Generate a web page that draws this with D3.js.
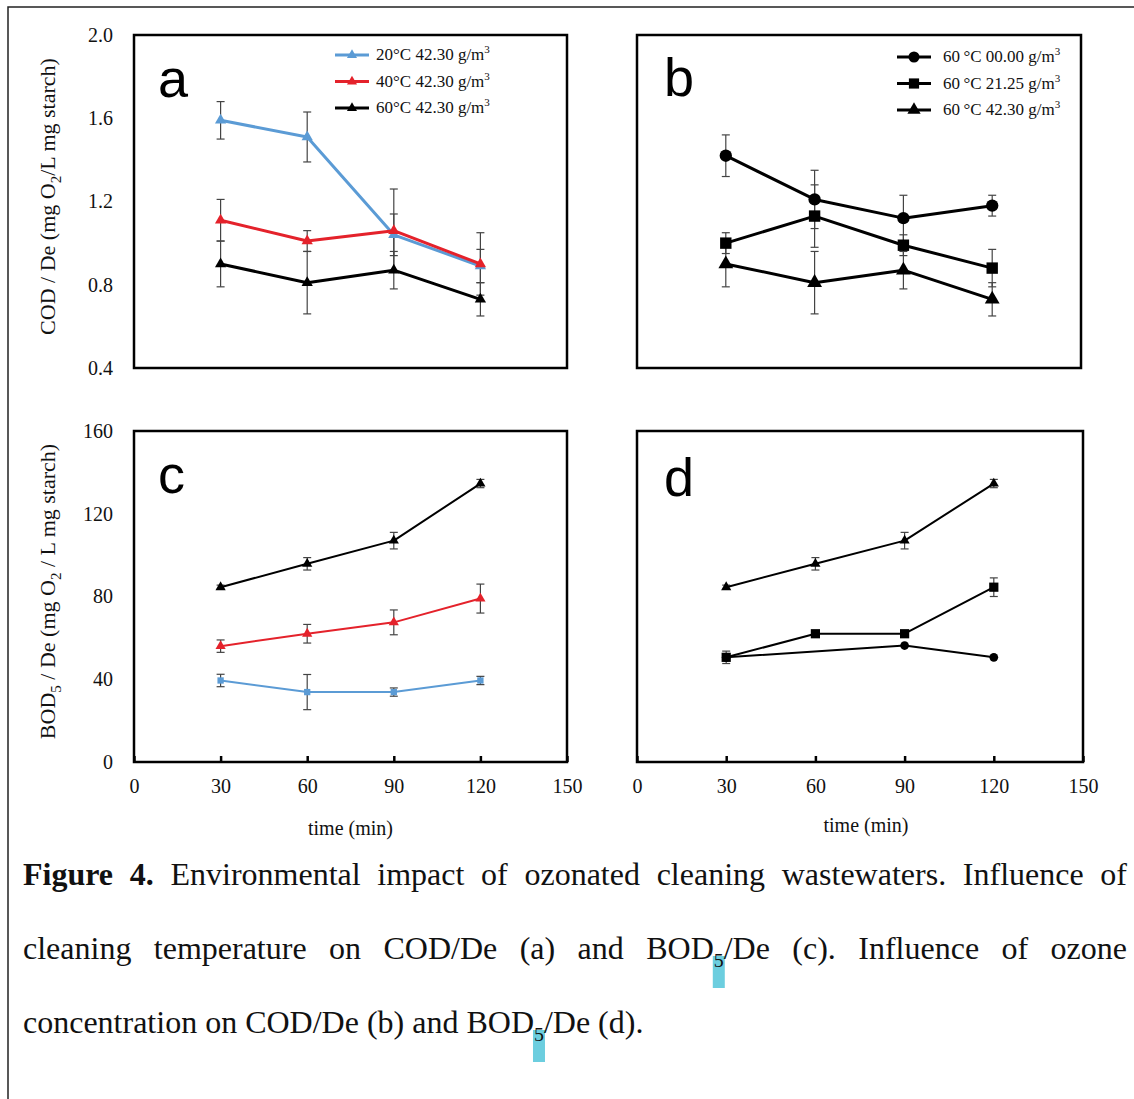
<!DOCTYPE html>
<html>
<head>
<meta charset="utf-8">
<script src="https://cdn.jsdelivr.net/npm/d3@7"></script>
<style>
  body { margin: 0; background: #fff; }
  text { font-family: "Liberation Serif", "Times New Roman", serif; }
  text.letter { font-family: "Liberation Sans", Arial, sans-serif; }
</style>
</head>
<body>
<script>
// ---- data ----
const times = [30, 60, 90, 120];

// COD / De, influence of temperature (panel a)
const cod20 = [1.59, 1.51, 1.04, 0.89];
const cod20Err = [0.09, 0.12, 0.10, 0.08];
const cod40 = [1.11, 1.01, 1.06, 0.90];
const cod40Err = [0.10, 0.05, 0.20, 0.15];
const cod60 = [0.90, 0.81, 0.87, 0.73];
const cod60Err = [0.11, 0.15, 0.09, 0.08];

// COD / De, influence of ozone concentration (panel b)
const codOz00 = [1.42, 1.21, 1.12, 1.18];
const codOz00Err = [0.10, 0.14, 0.11, 0.05];
const codOz21 = [1.00, 1.13, 0.99, 0.88];
const codOz21Err = [0.05, 0.15, 0.05, 0.09];

// BOD5 / De, influence of temperature (panel c)
const bod20 = [39.4, 33.8, 33.8, 39.4];
const bod20Err = [3, 8.5, 2, 2];
const bod40 = [56, 62, 67.5, 79];
const bod40Err = [3, 4.5, 6, 7];
const bod60 = [84.5, 95.8, 107, 134.6];
const bod60Err = [1, 3, 4, 2];

// BOD5 / De, influence of ozone concentration (panel d)
const bodOz00 = [50.6, null, 56.3, 50.6];
const bodOz00Err = [0, 0, 0, 0];
const bodOz21 = [50.6, 62, 62, 84.5];
const bodOz21Err = [3, 1, 1, 4.5];

const codTicks = [0.4, 0.8, 1.2, 1.6, 2.0];
const bodTicks = [0, 40, 80, 120, 160];
const timeTicks = [0, 30, 60, 90, 120, 150];

const tempLabels = ["20°C 42.30 g/m", "40°C 42.30 g/m", "60°C 42.30 g/m"];
const ozoneLabels = ["60\u2009°C 00.00 g/m", "60\u2009°C 21.25 g/m", "60\u2009°C 42.30 g/m"];

const captionLines = [
    [[{t: "Figure", b: true}], [{t: "4.", b: true}], "Environmental", "impact", "of", "ozonated",
     "cleaning", "wastewaters.", "Influence", "of"],
    ["cleaning", "temperature", "on", "COD/De", "(a)", "and",
     [{t: "BOD"}, {t: "5", sub: true}, {t: "/De"}], "(c).", "Influence", "of", "ozone"],
    ["concentration", "on", "COD/De", "(b)", "and",
     [{t: "BOD"}, {t: "5", sub: true}, {t: "/De"}], "(d)."]
];

const blue = "#5b9bd5", red = "#e4222b", black = "#000";

const svg = d3.select("body").append("svg")
    .attr("width", 1134)
    .attr("height", 1099);

// outer frame of the page crop
svg.append("path")
    .attr("d", "M8,1099V7H1134")
    .attr("fill", "none")
    .attr("stroke", "#222")
    .attr("stroke-width", 1.5);

const panels = [
    {
        letter: "a", left: 134, right: 567, top: 35, bottom: 368,
        yDomain: [0.4, 2.0], yTicks: codTicks, yFmt: d3.format(".1f"),
        yLabel: [{t: "COD / De (mg O"}, {t: "2", sub: true}, {t: "/L mg starch)"}],
        showX: false, lw: 3, letterDx: 24, letterDy: 62,
        series: [
            {v: cod20, e: cod20Err, color: blue, sym: d3.symbolTriangle, size: 55},
            {v: cod40, e: cod40Err, color: red, sym: d3.symbolTriangle, size: 55},
            {v: cod60, e: cod60Err, color: black, sym: d3.symbolTriangle, size: 55}
        ],
        legend: {x: 335, y: 55, dx: 41, labels: tempLabels}
    },
    {
        letter: "b", left: 637, right: 1081, top: 35, bottom: 368,
        yDomain: [0.4, 2.0], yTicks: null, showX: false, lw: 3, letterDx: 27, letterDy: 61,
        series: [
            {v: codOz00, e: codOz00Err, color: black, sym: d3.symbolCircle, size: 120},
            {v: codOz21, e: codOz21Err, color: black, sym: d3.symbolSquare, size: 130},
            {v: cod60, e: cod60Err, color: black, sym: d3.symbolTriangle, size: 95}
        ],
        legend: {x: 897, y: 57, dx: 46, labels: ozoneLabels}
    },
    {
        letter: "c", left: 134, right: 567, top: 431, bottom: 762,
        yDomain: [0, 160], yTicks: bodTicks, yFmt: d3.format("d"),
        yLabel: [{t: "BOD"}, {t: "5", sub: true}, {t: " / De (mg O"}, {t: "2", sub: true}, {t: " / L mg starch)"}],
        showX: true, lw: 2, letterDx: 24, letterDy: 62, xTitleDx: 0, xTitleDy: 73,
        series: [
            {v: bod20, e: bod20Err, color: blue, sym: d3.symbolSquare, size: 40},
            {v: bod40, e: bod40Err, color: red, sym: d3.symbolTriangle, size: 45},
            {v: bod60, e: bod60Err, color: black, sym: d3.symbolTriangle, size: 45}
        ]
    },
    {
        letter: "d", left: 637, right: 1083, top: 431, bottom: 762,
        yDomain: [0, 160], yTicks: null, showX: true, lw: 2, letterDx: 27, letterDy: 65, xTitleDx: 6, xTitleDy: 70,
        series: [
            {v: bodOz00, e: bodOz00Err, color: black, sym: d3.symbolCircle, size: 60},
            {v: bodOz21, e: bodOz21Err, color: black, sym: d3.symbolSquare, size: 85},
            {v: bod60, e: bod60Err, color: black, sym: d3.symbolTriangle, size: 45}
        ]
    }
];

function addRuns(textSel, runs, baseSize, subSize) {
    runs.forEach((r, k) => {
        const ts = textSel.append("tspan").text(r.t);
        if (r.b) ts.attr("font-weight", "bold");
        if (r.sub) {
            ts.attr("font-size", subSize).attr("dy", baseSize * 0.25);
        } else if (k > 0 && runs[k - 1].sub) {
            ts.attr("dy", -baseSize * 0.25);
        }
    });
}

panels.forEach(p => {
    const g = svg.append("g");
    const x = d3.scaleLinear().domain([0, 150]).range([p.left, p.right]);
    const y = d3.scaleLinear().domain(p.yDomain).range([p.bottom, p.top]);

    // y axis labels
    if (p.yTicks) {
        const ya = g.append("g")
            .attr("transform", `translate(${p.left},0)`)
            .call(d3.axisLeft(y).tickValues(p.yTicks).tickFormat(p.yFmt).tickSize(0).tickPadding(21));
        ya.select(".domain").remove();
        ya.selectAll("text")
            .attr("font-family", "Liberation Serif")
            .attr("font-size", 20)
            .attr("fill", "#111");

        const yl = g.append("text")
            .attr("transform", `translate(55,${(p.top + p.bottom) / 2 - 5}) rotate(-90)`)
            .attr("text-anchor", "middle")
            .attr("font-size", 22)
            .attr("fill", "#111");
        addRuns(yl, p.yLabel, 22, 15);
    }

    if (p.showX) {
        const xa = g.append("g")
            .attr("transform", `translate(0,${p.bottom})`)
            .call(d3.axisBottom(x).tickValues(timeTicks).tickSizeInner(-6).tickSizeOuter(0).tickPadding(17));
        xa.select(".domain").remove();
        xa.selectAll("line").attr("stroke", "#000").attr("stroke-width", 2.5);
        xa.selectAll("text")
            .attr("font-family", "Liberation Serif")
            .attr("font-size", 20)
            .attr("fill", "#111");

        g.append("text")
            .attr("x", (p.left + p.right) / 2 + p.xTitleDx)
            .attr("y", p.bottom + p.xTitleDy)
            .attr("text-anchor", "middle")
            .attr("font-size", 20)
            .attr("fill", "#111")
            .text("time (min)");
    }

    // plot frame
    g.append("rect")
        .attr("x", p.left).attr("y", p.top)
        .attr("width", p.right - p.left).attr("height", p.bottom - p.top)
        .attr("fill", "none")
        .attr("stroke", "#000")
        .attr("stroke-width", 2.5);

    // panel letter
    g.append("text")
        .attr("class", "letter")
        .attr("x", p.left + p.letterDx)
        .attr("y", p.top + p.letterDy)
        .attr("font-size", 54)
        .attr("fill", "#000")
        .text(p.letter);

    // error bars
    p.series.forEach(s => {
        const pts = times.map((t, i) => ({t, v: s.v[i], e: s.e[i]})).filter(d => d.v !== null && d.e > 0);
        const eb = g.append("g").attr("stroke", "#444").attr("stroke-width", 1.2);
        pts.forEach(d => {
            const cx = x(d.t);
            eb.append("line").attr("x1", cx).attr("x2", cx).attr("y1", y(d.v - d.e)).attr("y2", y(d.v + d.e));
            eb.append("line").attr("x1", cx - 4).attr("x2", cx + 4).attr("y1", y(d.v - d.e)).attr("y2", y(d.v - d.e));
            eb.append("line").attr("x1", cx - 4).attr("x2", cx + 4).attr("y1", y(d.v + d.e)).attr("y2", y(d.v + d.e));
        });
    });

    // lines and markers
    p.series.forEach(s => {
        const pts = times.map((t, i) => ({t, v: s.v[i]})).filter(d => d.v !== null);
        g.append("path")
            .datum(pts)
            .attr("fill", "none")
            .attr("stroke", s.color)
            .attr("stroke-width", p.lw)
            .attr("stroke-linejoin", "round")
            .attr("d", d3.line().x(d => x(d.t)).y(d => y(d.v)));
        g.selectAll(null)
            .data(pts)
            .enter().append("path")
            .attr("transform", d => `translate(${x(d.t)},${y(d.v)})`)
            .attr("d", d3.symbol().type(s.sym).size(s.size))
            .attr("fill", s.color);
    });

    // legend
    if (p.legend) {
        const lg = g.append("g");
        p.series.forEach((s, i) => {
            const ly = p.legend.y + i * 26.5;
            lg.append("line")
                .attr("x1", p.legend.x).attr("x2", p.legend.x + 34)
                .attr("y1", ly).attr("y2", ly)
                .attr("stroke", s.color).attr("stroke-width", 3);
            lg.append("path")
                .attr("transform", `translate(${p.legend.x + 17},${ly})`)
                .attr("d", d3.symbol().type(s.sym).size(s.size * 0.8))
                .attr("fill", s.color);
            const t = lg.append("text")
                .attr("x", p.legend.x + p.legend.dx)
                .attr("y", ly + 5)
                .attr("font-size", 17)
                .attr("fill", "#111")
                .text(p.legend.labels[i]);
            t.append("tspan").attr("font-size", 11).attr("dy", -7).text("3");
        });
    }
});

// caption, justified over the text block
const capSize = 32, capLeft = 23, capRight = 1127;
const capBase = [885, 959, 1033];
const capG = svg.append("g").attr("fill", "#111");
const hlG = capG.append("g");

captionLines.forEach((words, li) => {
    const items = words.map(w => {
        const runs = typeof w === "string" ? [{t: w}] : w;
        const t = capG.append("text")
            .attr("y", capBase[li])
            .attr("font-size", capSize);
        addRuns(t, runs, capSize, capSize * 0.62);
        return {t, width: t.node().getComputedTextLength(), runs};
    });
    const total = d3.sum(items, d => d.width);
    const last = li === captionLines.length - 1;
    const gap = last ? capSize * 0.25 : (capRight - capLeft - total) / (items.length - 1);
    let cx = capLeft;
    items.forEach(it => {
        it.t.attr("x", cx);
        cx += it.width + gap;
        it.t.selectAll("tspan").each(function (d, k) {
            if (it.runs[k] && it.runs[k].sub) {
                const bb = this.getBBox();
                hlG.append("rect")
                    .attr("x", bb.x - 1)
                    .attr("y", capBase[li] - 3)
                    .attr("width", bb.width + 2)
                    .attr("height", 32)
                    .attr("fill", "#6ccedf");
            }
        });
    });
});
</script>
</body>
</html>
